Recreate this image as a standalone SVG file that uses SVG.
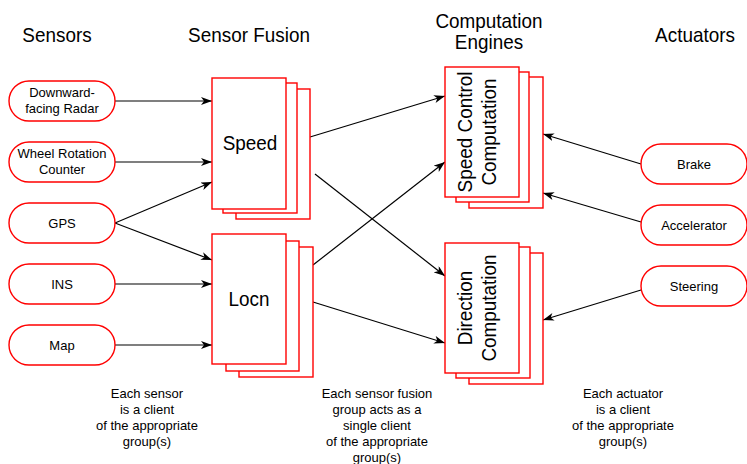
<svg xmlns="http://www.w3.org/2000/svg" width="747" height="464" viewBox="0 0 747 464">
  <style>
    .pill { fill: #fff; stroke: #f00; stroke-width: 1.4; }
    .box { fill: #fff; stroke: #f00; stroke-width: 1.4; }
    .small { font-family: "Liberation Sans", Arial, sans-serif; font-size: 13px; fill: #000; text-anchor: middle; }
    .big { font-family: "Liberation Sans", Arial, sans-serif; font-size: 21px; fill: #000; text-anchor: middle; }
    .wire { stroke: #000; stroke-width: 1.2; fill: none; marker-end: url(#head); }
  </style>
  <defs>
    <marker id="head" markerUnits="userSpaceOnUse" markerWidth="12" markerHeight="9" refX="11" refY="4" orient="auto">
      <path d="M0,0 L11,4 L0,8 L3,4 z" fill="#000"/>
    </marker>
  </defs>
  <rect width="747" height="464" fill="#fff"/>

  <!-- column headings -->
  <g id="headings">
    <text class="big" transform="translate(57,41.5) scale(0.9,1)">Sensors</text>
    <text class="big" transform="translate(249,41.5) scale(0.9,1)">Sensor Fusion</text>
    <text class="big" transform="translate(489,28) scale(0.9,1)">Computation</text>
    <text class="big" transform="translate(489,49) scale(0.9,1)">Engines</text>
    <text class="big" transform="translate(695,41.5) scale(0.9,1)">Actuators</text>
  </g>

  <!-- connectors -->
  <g id="connectors">
    <line class="wire" x1="115" y1="101" x2="212" y2="101"/>
    <line class="wire" x1="115" y1="162" x2="212" y2="162"/>
    <line class="wire" x1="115" y1="223" x2="212" y2="182"/>
    <line class="wire" x1="115" y1="223" x2="212" y2="260"/>
    <line class="wire" x1="115" y1="284" x2="212" y2="284"/>
    <line class="wire" x1="115" y1="345" x2="212" y2="345"/>
    <line class="wire" x1="310" y1="137" x2="445" y2="96"/>
    <line class="wire" x1="315" y1="174" x2="445" y2="276"/>
    <line class="wire" x1="313" y1="265" x2="445" y2="162"/>
    <line class="wire" x1="313" y1="302" x2="445" y2="343"/>
    <line class="wire" x1="641" y1="164" x2="543" y2="134"/>
    <line class="wire" x1="641" y1="222" x2="543" y2="193"/>
    <line class="wire" x1="641" y1="290" x2="543" y2="320"/>
  </g>

  <!-- sensors -->
  <g id="sensor-radar">
    <rect class="pill" x="9" y="81" width="106" height="40" rx="20"/>
    <text class="small" x="62" y="97">Downward-</text>
    <text class="small" x="62" y="113">facing Radar</text>
  </g>
  <g id="sensor-wheel">
    <rect class="pill" x="9" y="142" width="106" height="40" rx="20"/>
    <text class="small" x="62" y="158">Wheel Rotation</text>
    <text class="small" x="62" y="174">Counter</text>
  </g>
  <g id="sensor-gps">
    <rect class="pill" x="9" y="203" width="106" height="40" rx="20"/>
    <text class="small" x="62" y="228">GPS</text>
  </g>
  <g id="sensor-ins">
    <rect class="pill" x="9" y="264" width="106" height="40" rx="20"/>
    <text class="small" x="62" y="289">INS</text>
  </g>
  <g id="sensor-map">
    <rect class="pill" x="9" y="325" width="106" height="40" rx="20"/>
    <text class="small" x="62" y="350">Map</text>
  </g>

  <!-- sensor fusion groups -->
  <g id="fusion-speed">
    <rect class="box" x="236" y="89" width="74" height="130"/>
    <rect class="box" x="223" y="83" width="74" height="130"/>
    <rect class="box" x="212" y="78" width="74" height="131"/>
    <text class="big" transform="translate(250,150) scale(0.9,1)">Speed</text>
  </g>
  <g id="fusion-locn">
    <rect class="box" x="239" y="247" width="74" height="130"/>
    <rect class="box" x="226" y="241" width="73" height="130"/>
    <rect class="box" x="212" y="234" width="74" height="130"/>
    <text class="big" transform="translate(249,306) scale(0.9,1)">Locn</text>
  </g>

  <!-- computation engines -->
  <g id="engine-speed-control">
    <rect class="box" x="469" y="77" width="74" height="131"/>
    <rect class="box" x="456" y="72" width="73" height="130"/>
    <rect class="box" x="445" y="67" width="74" height="130"/>
    <text class="big" transform="translate(472,132) rotate(-90) scale(0.9,1)">Speed Control</text>
    <text class="big" transform="translate(496,132) rotate(-90) scale(0.9,1)">Computation</text>
  </g>
  <g id="engine-direction">
    <rect class="box" x="469" y="253" width="74" height="131"/>
    <rect class="box" x="456" y="247" width="74" height="131"/>
    <rect class="box" x="445" y="243" width="74" height="130"/>
    <text class="big" transform="translate(472,308) rotate(-90) scale(0.9,1)">Direction</text>
    <text class="big" transform="translate(496,308) rotate(-90) scale(0.9,1)">Computation</text>
  </g>

  <!-- actuators -->
  <g id="actuator-brake">
    <rect class="pill" x="641" y="144" width="106" height="40" rx="20"/>
    <text class="small" x="694" y="169">Brake</text>
  </g>
  <g id="actuator-accelerator">
    <rect class="pill" x="641" y="205" width="106" height="40" rx="20"/>
    <text class="small" x="694" y="230">Accelerator</text>
  </g>
  <g id="actuator-steering">
    <rect class="pill" x="641" y="266" width="106" height="40" rx="20"/>
    <text class="small" x="694" y="291">Steering</text>
  </g>

  <!-- notes -->
  <g id="note-sensors">
    <text class="small" x="147" y="398">Each sensor</text>
    <text class="small" x="147" y="414">is a client</text>
    <text class="small" x="147" y="430">of the appropriate</text>
    <text class="small" x="147" y="446">group(s)</text>
  </g>
  <g id="note-fusion">
    <text class="small" x="377" y="398">Each sensor fusion</text>
    <text class="small" x="377" y="414">group acts as a</text>
    <text class="small" x="377" y="430">single client</text>
    <text class="small" x="377" y="446">of the appropriate</text>
    <text class="small" x="377" y="462">group(s)</text>
  </g>
  <g id="note-actuators">
    <text class="small" x="623" y="398">Each actuator</text>
    <text class="small" x="623" y="414">is a client</text>
    <text class="small" x="623" y="430">of the appropriate</text>
    <text class="small" x="623" y="446">group(s)</text>
  </g>
</svg>
